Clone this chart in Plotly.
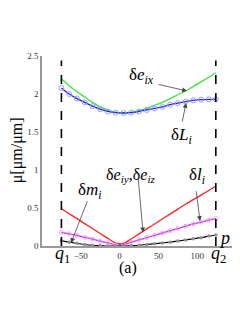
import plotly.graph_objects as go

# ---- data ----
p_vals = [-75, -65, -55, -45, -35, -25, -15, -5, 5, 15, 25, 35, 45, 55, 65, 75, 85, 95, 105, 115, 124]
de_ix = [2.20, 2.11, 2.03, 1.96, 1.89, 1.83, 1.79, 1.76, 1.75, 1.76, 1.78, 1.81, 1.85, 1.89, 1.94, 1.99, 2.04, 2.10, 2.16, 2.22, 2.28]
dL_i = [2.08, 2.00, 1.94, 1.89, 1.84, 1.80, 1.77, 1.755, 1.75, 1.755, 1.77, 1.79, 1.81, 1.83, 1.86, 1.88, 1.90, 1.915, 1.925, 1.93, 1.93]
de_iyz = [0.49, 0.425, 0.36, 0.295, 0.23, 0.165, 0.10, 0.04, 0.035, 0.095, 0.16, 0.225, 0.29, 0.355, 0.42, 0.485, 0.55, 0.61, 0.67, 0.73, 0.79]
dl_i = [0.18, 0.16, 0.14, 0.115, 0.09, 0.065, 0.04, 0.015, 0.02, 0.05, 0.08, 0.11, 0.14, 0.17, 0.20, 0.23, 0.26, 0.29, 0.315, 0.34, 0.36]
dm_i = [0.07, 0.05, 0.035, 0.02, 0.01, 0.005, 0.0, 0.0, 0.0, 0.005, 0.01, 0.02, 0.03, 0.04, 0.05, 0.065, 0.08, 0.095, 0.11, 0.13, 0.145]
q_bounds = [-75, 124]
x_ticks = [-50, 0, 50, 100]
y_ticks = [0, 0.5, 1, 1.5, 2, 2.5]
y_tick_text = ["0", "0.5", "1", "1.5", "2", "2.5"]

SERIF = "Liberation Serif, Times New Roman, serif"

fig = go.Figure()
fig.add_trace(go.Scatter(x=p_vals, y=de_ix, mode="lines", line=dict(color="#38e838", width=1.3, shape="spline")))
fig.add_trace(go.Scatter(x=p_vals, y=dL_i, mode="lines+markers", line=dict(color="#2020e0", width=1.3, shape="spline"),
                         marker=dict(symbol="circle-open", size=5, color="#9a9aff", line=dict(width=1))))
fig.add_trace(go.Scatter(x=p_vals, y=de_iyz, mode="lines", line=dict(color="#ff2020", width=1.3, shape="spline")))
fig.add_trace(go.Scatter(x=p_vals, y=dl_i, mode="lines+markers", line=dict(color="#c030f0", width=1.3, shape="spline"),
                         marker=dict(symbol="circle-open", size=4, color="#f0a0f8", line=dict(width=1))))
fig.add_trace(go.Scatter(x=p_vals, y=dm_i, mode="lines+markers", line=dict(color="#000000", width=1.2, shape="spline"),
                         marker=dict(symbol="circle", size=3.5, color="#909090")))

for q in q_bounds:
    fig.add_shape(type="line", x0=q, x1=q, y0=0, y1=2.44, xref="x", yref="y",
                  line=dict(color="black", width=1.6, dash="dash"))

def arrow(xh, yh, xt, yt):
    fig.add_annotation(x=xh, y=yh, ax=xt, ay=yt, xref="x", yref="y", axref="x", ayref="y",
                       text="", showarrow=True, arrowhead=2, arrowsize=1.2, arrowwidth=0.8, arrowcolor="#444")

def label(x, y, txt, size=17, xref="x", yref="y"):
    fig.add_annotation(x=x, y=y, xref=xref, yref=yref, text=txt, showarrow=False,
                       xanchor="center", yanchor="middle",
                       font=dict(family=SERIF, size=size, color="black"))

label(27.6, 2.24, "δ<i>e</i><sub><i>ix</i></sub>")
arrow(86.9, 2.04, 48.2, 2.13)
label(80.4, 1.45, "δ<i>L</i><sub><i>i</i></sub>")
arrow(85.6, 1.88, 80.4, 1.62)
label(-38.1, 0.72, "δ<i>m</i><sub><i>i</i></sub>")
arrow(-62.6, 0.04, -40.7, 0.61)
label(13.4, 0.93, "δ<i>e</i><sub><i>iy</i></sub>,δ<i>e</i><sub><i>iz</i></sub>", size=16)
arrow(30.2, 0.18, 23.7, 0.92)
label(99.7, 0.92, "δ<i>l</i><sub><i>i</i></sub>")
arrow(103.6, 0.33, 98.5, 0.74)
label(135.8, 0.11, "<i>p</i>", size=18)
label(-74.2, -0.045, "<i>q</i><sub>1</sub>", size=18, yref="paper")
label(126.8, -0.045, "<i>q</i><sub>2</sub>", size=18, yref="paper")
label(10.8, -0.118, "(a)", size=16, yref="paper")
fig.add_annotation(x=-0.128, y=0.505, xref="paper", yref="paper", text="μ[μm/μm]", textangle=-90,
                   xanchor="center", yanchor="middle",
                   showarrow=False, font=dict(family=SERIF, size=16, color="black"))

fig.update_layout(
    width=240, height=310, margin=dict(l=34, r=12, t=48, b=72),
    paper_bgcolor="white", plot_bgcolor="white", showlegend=False,
    xaxis=dict(range=[-100, 150], tickvals=x_ticks, showgrid=False, zeroline=False,
               showline=True, linecolor="#999", linewidth=1.5, ticks="",
               tickfont=dict(family=SERIF, size=9, color="#333")),
    yaxis=dict(range=[0, 2.5], tickvals=y_ticks, ticktext=y_tick_text, showgrid=False, zeroline=False,
               showline=True, linecolor="#999", linewidth=1.5, ticks="",
               tickfont=dict(family=SERIF, size=9, color="#333")),
)
fig.write_html("out.html")
